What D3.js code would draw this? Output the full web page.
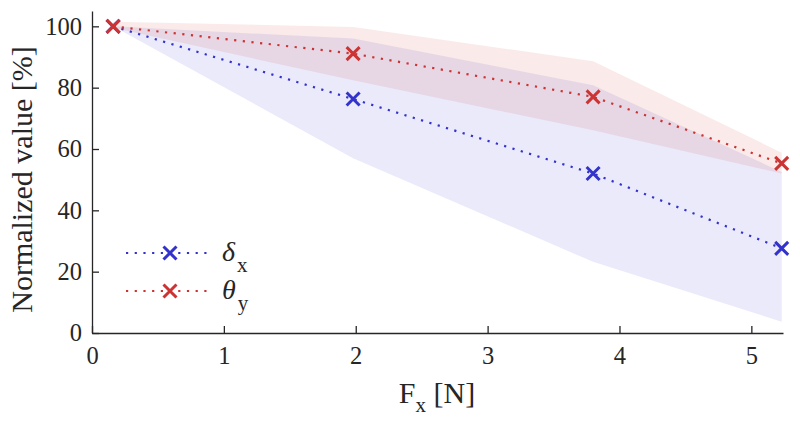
<!DOCTYPE html>
<html>
<head>
<meta charset="utf-8">
<script src="https://cdn.jsdelivr.net/npm/d3@7"></script>
<style>
body { margin: 0; background: #fff; }
</style>
</head>
<body>
<svg id="chart" width="800" height="427"></svg>
<script>
// force values [N]
var force = [0.16, 1.98, 3.80, 5.23];

// delta_x: mean and band
var deltaMean = [100, 76.3, 52.0, 27.6];
var deltaHigh = [100, 96.0, 80.8, 52.5];
var deltaLow  = [100, 57.0, 23.2, 3.7];

// theta_y: mean and band
var thetaMean = [100, 91.1, 77.0, 55.3];
var thetaHigh = [101.5, 99.8, 88.6, 58.8];
var thetaLow  = [99.5, 82.4, 66.1, 52.0];

var xTicks = [0, 1, 2, 3, 4, 5];
var yTicks = [0, 20, 40, 60, 80, 100];

var blue = "#3333cc", red = "#cc3333";
var axisCol = "#262626";
var serif = "'Liberation Serif'";

var svg = d3.select("#chart");

var x = d3.scaleLinear().domain([0, 5.24]).range([92, 783]);
var y = d3.scaleLinear().domain([0, 105]).range([333, 11]);

// shaded bands
function band(hi, lo) {
    var pts = force.map(function(f, i) { return {x: f, hi: hi[i], lo: lo[i]}; });
    return d3.area()
        .x(function(d) { return x(d.x); })
        .y0(function(d) { return y(d.lo); })
        .y1(function(d) { return y(d.hi); })(pts);
}

svg.append("path").attr("d", band(deltaHigh, deltaLow))
    .attr("fill", blue).attr("fill-opacity", 0.1);
svg.append("path").attr("d", band(thetaHigh, thetaLow))
    .attr("fill", red).attr("fill-opacity", 0.1);

// axes (inward ticks)
var xAxis = d3.axisBottom(x).tickValues(xTicks).tickFormat(d3.format("d"))
    .tickSize(-7).tickSizeOuter(0).tickPadding(14);
var yAxis = d3.axisLeft(y).tickValues(yTicks).tickFormat(d3.format("d"))
    .tickSize(-7).tickSizeOuter(0).tickPadding(10);

var gx = svg.append("g").attr("transform", "translate(0," + y(0) + ")").call(xAxis);
var gy = svg.append("g").attr("transform", "translate(" + x(0) + ",0)").call(yAxis);

[gx, gy].forEach(function(g) {
    g.selectAll("path, line").attr("stroke", axisCol).attr("stroke-width", 1.3);
    g.selectAll("text").style("font-size", "24.5px").attr("fill", axisCol)
        .style("font-family", serif);
});

// lines + markers
var line = d3.line().x(function(d) { return x(d[0]); }).y(function(d) { return y(d[1]); });

function cross(g, cx, cy, col) {
    var s = 6.5;
    g.append("path")
        .attr("d", "M" + (cx - s) + "," + (cy - s) + "L" + (cx + s) + "," + (cy + s) +
                   "M" + (cx - s) + "," + (cy + s) + "L" + (cx + s) + "," + (cy - s))
        .attr("stroke", col).attr("stroke-width", 3).attr("fill", "none");
}

function series(vals, col) {
    var pts = force.map(function(f, i) { return [f, vals[i]]; });
    svg.append("path").attr("d", line(pts))
        .attr("fill", "none").attr("stroke", col).attr("stroke-width", 2.2)
        .attr("stroke-dasharray", "2.2,6.5");
    var g = svg.append("g");
    pts.forEach(function(p) { cross(g, x(p[0]), y(p[1]), col); });
}

series(deltaMean, blue);
series(thetaMean, red);

// legend
var legend = [
    {sym: "\u03b4", sub: "x", col: blue, y: 253},
    {sym: "\u03b8", sub: "y", col: red, y: 291}
];
legend.forEach(function(l) {
    svg.append("line").attr("x1", 126).attr("x2", 210).attr("y1", l.y).attr("y2", l.y)
        .attr("stroke", l.col).attr("stroke-width", 2.2).attr("stroke-dasharray", "2.2,6.5");
    cross(svg, 170, l.y, l.col);
    var t = svg.append("text").attr("x", 222).attr("y", l.y + 8)
        .style("font-family", serif).style("font-size", "28px").attr("fill", axisCol);
    t.append("tspan").style("font-style", "italic").text(l.sym);
    t.append("tspan").attr("dx", 2).attr("dy", 11).style("font-size", "21px").text(l.sub);
});

// axis labels
var xl = svg.append("text").attr("x", 437).attr("y", 403).attr("text-anchor", "middle")
    .style("font-family", serif).style("font-size", "30px").attr("fill", axisCol);
xl.append("tspan").text("F");
xl.append("tspan").attr("dy", 9).style("font-size", "21px").text("x");
xl.append("tspan").attr("dy", -9).text(" [N]");

svg.append("text")
    .attr("transform", "translate(32,179.5) rotate(-90)")
    .attr("text-anchor", "middle")
    .style("font-family", serif).style("font-size", "30px").attr("fill", axisCol)
    .text("Normalized value [%]");
</script>
</body>
</html>
